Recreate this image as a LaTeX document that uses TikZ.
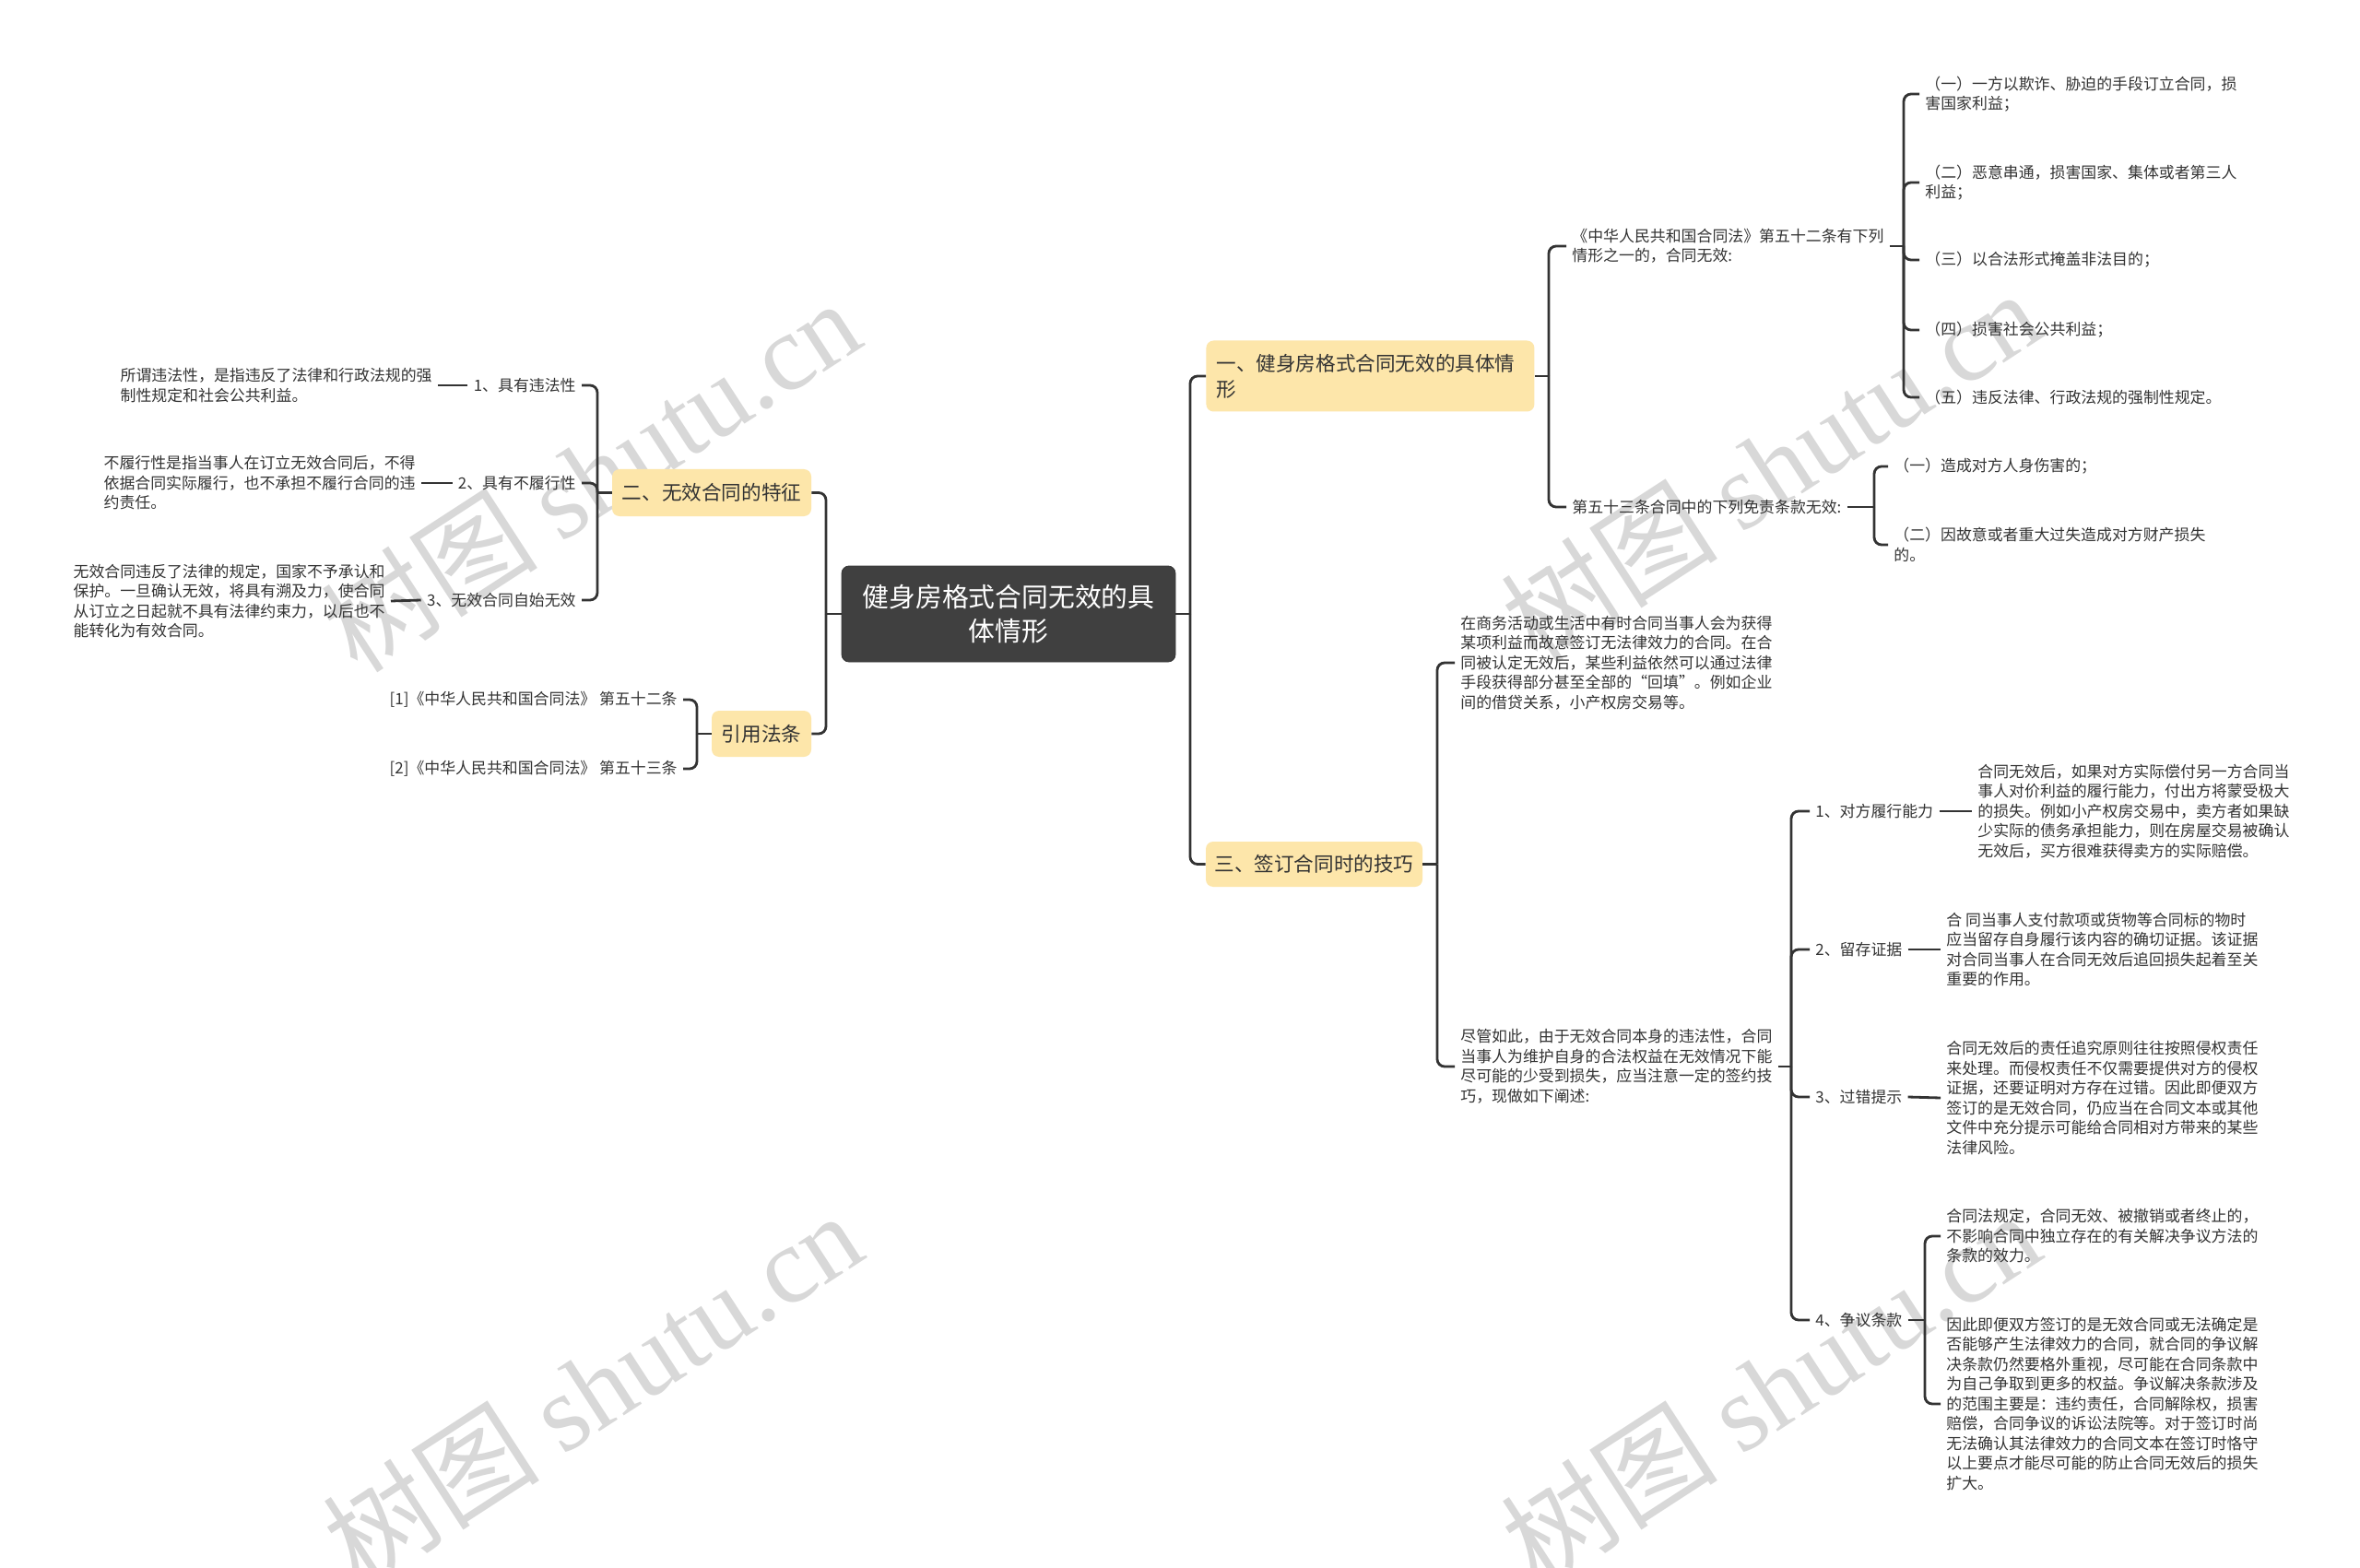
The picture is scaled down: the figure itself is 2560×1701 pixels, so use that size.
\documentclass[tikz,border=0pt]{standalone}
\usepackage{fontspec}
\setmainfont{Noto Sans CJK SC}
\newfontfamily\wmlat{Liberation Serif}
\definecolor{linec}{HTML}{333333}
\definecolor{branchc}{HTML}{FDE6AA}
\definecolor{rootc}{HTML}{404040}
\definecolor{textc}{HTML}{333333}
\definecolor{wmc}{HTML}{D8D8D8}
\newcommand\fleaf{\fontsize{8.45pt}{10.75pt}\selectfont}
\newcommand\fbranch{\fontsize{10.8pt}{13.9pt}\selectfont}
\newcommand\froot{\fontsize{14.4pt}{18.8pt}\selectfont}
\newcommand\fwm{\fontsize{59pt}{59pt}\selectfont}
\tikzset{
  conn/.style={draw=linec, line width=1.4pt, rounded corners=4pt},
  rootbox/.style={fill=rootc, draw=rootc!85!black, rounded corners=4pt, text=white, font=\froot, align=center, minimum width=181pt, minimum height=52pt, inner sep=0pt},
  branch/.style={fill=branchc, rounded corners=4pt, text=textc, font=\fbranch, inner sep=0pt},
  leaf/.style={font=\fleaf, text=textc, align=left, inner xsep=3pt, inner ysep=1pt},
  wm/.style={rotate=33, text=wmc, font=\fwm, inner sep=0pt}
}
\begin{document}
\begin{tikzpicture}[x=0.5pt,y=-0.5pt]
\useasboundingbox[fill=white] (0,0) rectangle (2560,1701);
% watermarks
\node[wm] (w1) at (640,515) {树图 {\wmlat shutu.cn}};
\node[wm] (w2) at (642,1505) {树图 {\wmlat shutu.cn}};
\node[wm] (w3) at (1920,505) {树图 {\wmlat shutu.cn}};
\node[wm] (w4) at (1920,1505) {树图 {\wmlat shutu.cn}};
% root and branches
\node[rootbox] (root) at (1094,666) {健身房格式合同无效的具\\体情形};
\node[branch, anchor=west, text width=167pt, align=left, inner xsep=5.5pt, minimum height=38.5pt] (b1) at (1308,408) {一、健身房格式合同无效的具体情\\形};
\node[branch, minimum width=117.5pt, minimum height=24.5pt] (b3) at (1425.5,937.5) {三、签订合同时的技巧};
\node[branch, minimum width=108pt, minimum height=25.5pt] (b2) at (772,534.5) {二、无效合同的特征};
\node[branch, minimum width=54pt, minimum height=25pt] (b4) at (826,796) {引用法条};
% left leaves
\node[leaf, anchor=east] (l1) at (631,418) {1、具有违法性};
\node[leaf, anchor=east] (l2) at (631,524) {2、具有不履行性};
\node[leaf, anchor=east] (l3) at (631,651) {3、无效合同自始无效};
\node[leaf, anchor=east] (d1) at (475,418) {所谓违法性，是指违反了法律和行政法规的强\\制性规定和社会公共利益。};
\node[leaf, anchor=east] (d2) at (457,524) {不履行性是指当事人在订立无效合同后，不得\\依据合同实际履行，也不承担不履行合同的违\\约责任。};
\node[leaf, anchor=east] (d3) at (424,652) {无效合同违反了法律的规定，国家不予承认和\\保护。一旦确认无效，将具有溯及力，使合同\\从订立之日起就不具有法律约束力，以后也不\\能转化为有效合同。};
\node[leaf, anchor=east] (c1) at (741,759) {[1]《中华人民共和国合同法》 第五十二条};
\node[leaf, anchor=east] (c2) at (741,834) {[2]《中华人民共和国合同法》 第五十三条};
% right leaves
\node[leaf, anchor=west] (r1) at (1699,267) {《中华人民共和国合同法》第五十二条有下列\\情形之一的，合同无效:};
\node[leaf, anchor=west] (r2) at (1699,550) {第五十三条合同中的下列免责条款无效:};
\node[leaf, anchor=west] (a1) at (2082,102) {（一）一方以欺诈、胁迫的手段订立合同，损\\害国家利益；};
\node[leaf, anchor=west] (a2) at (2082,198) {（二）恶意串通，损害国家、集体或者第三人\\利益；};
\node[leaf, anchor=west] (a3) at (2082,282) {（三）以合法形式掩盖非法目的；};
\node[leaf, anchor=west] (a4) at (2082,358) {（四）损害社会公共利益；};
\node[leaf, anchor=west] (a5) at (2082,431) {（五）违反法律、行政法规的强制性规定。};
\node[leaf, anchor=west] (e1) at (2048,506) {（一）造成对方人身伤害的；};
\node[leaf, anchor=west] (e2) at (2048,591) {（二）因故意或者重大过失造成对方财产损失\\的。};
\node[leaf, anchor=west] (s1) at (1578,719) {在商务活动或生活中有时合同当事人会为获得\\某项利益而故意签订无法律效力的合同。在合\\同被认定无效后，某些利益依然可以通过法律\\手段获得部分甚至全部的“回填”。例如企业\\间的借贷关系，小产权房交易等。};
\node[leaf, anchor=west] (s2) at (1578,1157) {尽管如此，由于无效合同本身的违法性，合同\\当事人为维护自身的合法权益在无效情况下能\\尽可能的少受到损失，应当注意一定的签约技\\巧，现做如下阐述:};
\node[leaf, anchor=west] (t1) at (1963,880) {1、对方履行能力};
\node[leaf, anchor=west] (t2) at (1963,1030) {2、留存证据};
\node[leaf, anchor=west] (t3) at (1963,1190) {3、过错提示};
\node[leaf, anchor=west] (t4) at (1963,1432) {4、争议条款};
\node[leaf, anchor=west] (u1) at (2139,880) {合同无效后，如果对方实际偿付另一方合同当\\事人对价利益的履行能力，付出方将蒙受极大\\的损失。例如小产权房交易中，卖方者如果缺\\少实际的债务承担能力，则在房屋交易被确认\\无效后，买方很难获得卖方的实际赔偿。};
\node[leaf, anchor=west] (u2) at (2105,1030) {合 同当事人支付款项或货物等合同标的物时\\应当留存自身履行该内容的确切证据。该证据\\对合同当事人在合同无效后追回损失起着至关\\重要的作用。};
\node[leaf, anchor=west] (u3) at (2105,1191) {合同无效后的责任追究原则往往按照侵权责任\\来处理。而侵权责任不仅需要提供对方的侵权\\证据，还要证明对方存在过错。因此即便双方\\签订的是无效合同，仍应当在合同文本或其他\\文件中充分提示可能给合同相对方带来的某些\\法律风险。};
\node[leaf, anchor=west] (v1) at (2105,1341) {合同法规定，合同无效、被撤销或者终止的，\\不影响合同中独立存在的有关解决争议方法的\\条款的效力。};
\node[leaf, anchor=west] (v2) at (2105,1523) {因此即便双方签订的是无效合同或无法确定是\\否能够产生法律效力的合同，就合同的争议解\\决条款仍然要格外重视，尽可能在合同条款中\\为自己争取到更多的权益。争议解决条款涉及\\的范围主要是：违约责任，合同解除权，损害\\赔偿，合同争议的诉讼法院等。对于签订时尚\\无法确认其法律效力的合同文本在签订时恪守\\以上要点才能尽可能的防止合同无效后的损失\\扩大。};
% junction coordinates
\coordinate (rR) at (1291,666);
\coordinate (rL) at (896,666);
\coordinate (k1) at (1680,408);
\coordinate (k2) at (648,534.5);
\coordinate (k3) at (1559,937.5);
\coordinate (k4) at (756,796);
\coordinate (k5) at (2065,267);
\coordinate (k6) at (2033,550);
\coordinate (k7) at (1943,1157);
\coordinate (k8) at (2088,1432);
% connectors
\draw[conn] (root.east) -- (rR);
\draw[conn] (rR) |- (b1.west);
\draw[conn] (rR) |- (b3.west);
\draw[conn] (root.west) -- (rL);
\draw[conn] (rL) |- (b2.east);
\draw[conn] (rL) |- (b4.east);
\draw[conn] (b2.west) -- (k2);
\draw[conn] (k2) |- (l1.east);
\draw[conn] (k2) |- (l2.east);
\draw[conn] (k2) |- (l3.east);
\draw[conn] (l1.west) -- (d1.east);
\draw[conn] (l2.west) -- (d2.east);
\draw[conn] (l3.west) -- (d3.east);
\draw[conn] (b4.west) -- (k4);
\draw[conn] (k4) |- (c1.east);
\draw[conn] (k4) |- (c2.east);
\draw[conn] (b1.east) -- (k1);
\draw[conn] (k1) |- (r1.west);
\draw[conn] (k1) |- (r2.west);
\draw[conn] (r1.east) -- (k5);
\draw[conn] (k5) |- (a1.west);
\draw[conn] (k5) |- (a2.west);
\draw[conn] (k5) |- (a3.west);
\draw[conn] (k5) |- (a4.west);
\draw[conn] (k5) |- (a5.west);
\draw[conn] (r2.east) -- (k6);
\draw[conn] (k6) |- (e1.west);
\draw[conn] (k6) |- (e2.west);
\draw[conn] (b3.east) -- (k3);
\draw[conn] (k3) |- (s1.west);
\draw[conn] (k3) |- (s2.west);
\draw[conn] (s2.east) -- (k7);
\draw[conn] (k7) |- (t1.west);
\draw[conn] (k7) |- (t2.west);
\draw[conn] (k7) |- (t3.west);
\draw[conn] (k7) |- (t4.west);
\draw[conn] (t1.east) -- (u1.west);
\draw[conn] (t2.east) -- (u2.west);
\draw[conn] (t3.east) -- (u3.west);
\draw[conn] (t4.east) -- (k8);
\draw[conn] (k8) |- (v1.west);
\draw[conn] (k8) |- (v2.west);
\end{tikzpicture}
\end{document}
